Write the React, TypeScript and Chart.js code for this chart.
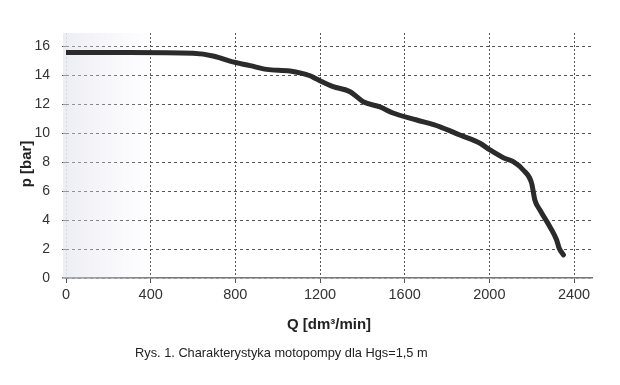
import React, { useEffect, useRef } from "react";
import { Chart, registerables } from "chart.js";

Chart.register(...registerables);

const flowQ = [0, 300, 600, 700, 783, 870, 948, 1058, 1153, 1184, 1262, 1342, 1404, 1483, 1545, 1657, 1767, 1861, 1956, 2003, 2066, 2113, 2160, 2200, 2215, 2239, 2286, 2318, 2330, 2350];
const pressureP = [15.55, 15.55, 15.5, 15.3, 14.92, 14.65, 14.39, 14.28, 13.95, 13.72, 13.2, 12.85, 12.16, 11.8, 11.38, 10.9, 10.43, 9.86, 9.29, 8.83, 8.3, 8.02, 7.45, 6.53, 5.38, 4.69, 3.54, 2.62, 2.05, 1.6];
const xTickValues = [0, 400, 800, 1200, 1600, 2000, 2400];
const yTickValues = [0, 2, 4, 6, 8, 10, 12, 14, 16];
const xTitle = "Q [dm³/min]";
const yTitle = "p [bar]";
const caption = "Rys. 1. Charakterystyka motopompy dla Hgs=1,5 m";

const FONT = '"Liberation Sans", Arial, sans-serif';

const shadePlugin = {
  id: "shade",
  beforeDatasetsDraw(chart: any) {
    const { ctx, chartArea } = chart;
    const g = ctx.createLinearGradient(chartArea.left - 3, 0, chartArea.left + 95, 0);
    g.addColorStop(0, "rgba(218,218,232,0.5)");
    g.addColorStop(0.5, "rgba(228,228,240,0.28)");
    g.addColorStop(1, "rgba(240,240,246,0)");
    ctx.save();
    ctx.fillStyle = g;
    ctx.fillRect(chartArea.left - 3, chartArea.top, 98, chartArea.bottom - chartArea.top);
    ctx.restore();
  },
};

const textPlugin = {
  id: "texts",
  afterDraw(chart: any) {
    const { ctx } = chart;
    ctx.save();
    ctx.font = `12.8px ${FONT}`;
    ctx.fillStyle = "#222";
    ctx.textAlign = "left";
    ctx.textBaseline = "middle";
    ctx.fillText(caption, 135, 353);
    ctx.translate(27, 164);
    ctx.rotate(-Math.PI / 2);
    ctx.textAlign = "center";
    ctx.font = `bold 15px ${FONT}`;
    ctx.fillText(yTitle, 0, 0);
    ctx.restore();
  },
};

export default function App() {
  const ref = useRef<HTMLCanvasElement>(null);
  useEffect(() => {
    if (!ref.current) return;
    const data = flowQ.map((q, i) => ({ x: q, y: pressureP[i] }));
    const chart = new Chart(ref.current, {
      type: "line",
      data: {
        datasets: [
          {
            data,
            borderColor: "#2b2b2b",
            borderWidth: 5,
            pointRadius: 0,
            cubicInterpolationMode: "monotone",
            borderCapStyle: "round",
            borderJoinStyle: "round",
            fill: false,
          },
        ],
      },
      options: {
        responsive: false,
        animation: false,
        layout: { padding: { left: 0, right: 28, top: 33, bottom: 47 } },
        plugins: { legend: { display: false }, tooltip: { enabled: false }, title: { display: false } },
        scales: {
          x: {
            type: "linear",
            min: 0,
            max: 2485,
            afterBuildTicks: (axis: any) => {
              axis.ticks = xTickValues.map((v) => ({ value: v }));
            },
            afterFit: (scale: any) => {
              scale.height = 60;
            },
            ticks: {
              color: "#333",
              font: { family: FONT, size: 14.5 },
              padding: 3,
              maxRotation: 0,
              autoSkip: false,
              callback: (v: any) => String(v),
            },
            grid: {
              color: (c: any) => (c.tick && c.tick.value === 0 ? "rgba(190,190,200,0.6)" : "#555"),
              lineWidth: 1,
              tickLength: 5,
              tickColor: "#555",
            },
            border: { display: true, color: "#777", width: 1.5, dash: [2, 2] },
            title: {
              display: true,
              text: xTitle,
              color: "#222",
              font: { family: FONT, size: 15, weight: "bold" },
              padding: { top: 0, bottom: 4 },
            },
          },
          y: {
            type: "linear",
            min: 0,
            max: 16.9,
            afterBuildTicks: (axis: any) => {
              axis.ticks = yTickValues.map((v) => ({ value: v }));
            },
            afterFit: (scale: any) => {
              scale.width = 66;
            },
            ticks: {
              color: "#333",
              font: { family: FONT, size: 14 },
              padding: 12,
              autoSkip: false,
              callback: (v: any) => String(v),
            },
            grid: {
              color: (c: any) => (c.tick && c.tick.value === 0 ? "#777" : "#555"),
              lineWidth: (c: any) => (c.tick && c.tick.value === 0 ? 1.5 : 1),
              tickLength: 4,
            },
            border: { display: false, dash: [3, 3] },
            title: { display: false },
          },
        },
      },
      plugins: [shadePlugin, textPlugin],
    } as any);

    return () => chart.destroy();
  }, []);

  return (
    <div style={{ position: "absolute", left: 0, top: 0, width: 620, height: 385, background: "#fff" }}>
      <canvas ref={ref} width={620} height={385} />
    </div>
  );
}
